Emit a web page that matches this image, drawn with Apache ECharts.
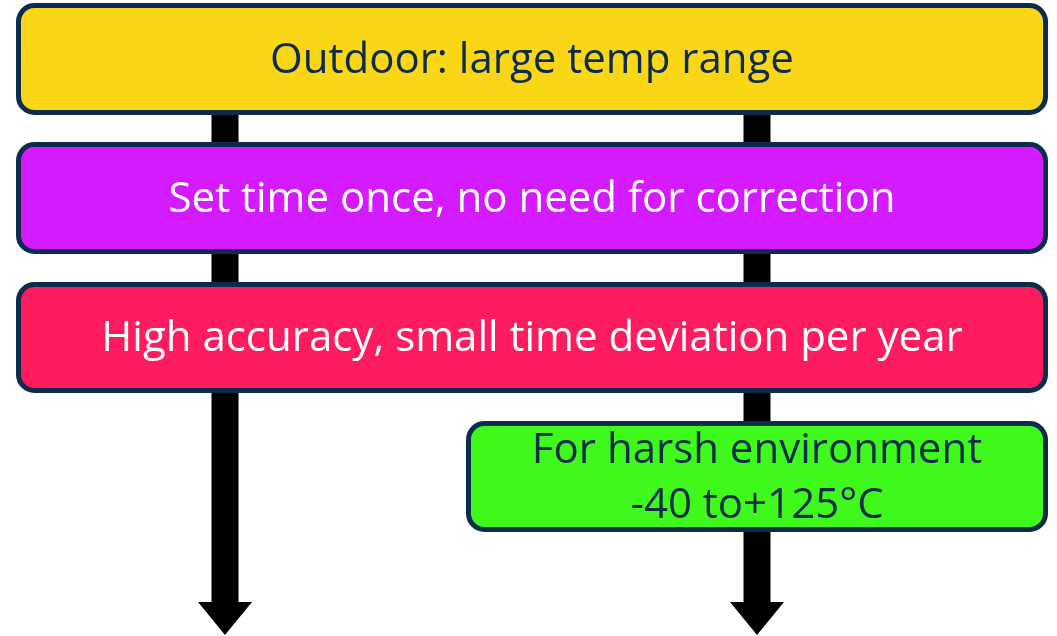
<!DOCTYPE html>
<html>
<head>
<meta charset="utf-8">
<script src="https://cdn.jsdelivr.net/npm/echarts@6/dist/echarts.min.js"></script>
<style>
  html, body { margin: 0; padding: 0; background: #fff; }
  #chart { width: 1057px; height: 636px; }
</style>
</head>
<body>
<div id="chart"></div>
<script>
// boxes (in page-like units, y grows downward)
const labels = ['Outdoor: large temp range', 'Set time once, no need for correction', 'High accuracy, small time deviation per year', 'For harsh environment\n-40 to+125°C'];
const boxLeft = [16, 16, 16, 466];
const boxRight = [1048, 1048, 1048, 1048];
const boxTop = [3, 142, 282, 421];
const boxBottom = [115, 254, 393, 532];
const boxColors = ['#F9D616', '#D41BFF', '#FD1C5E', '#3FF91C'];
const textColors = ['#0D2B4B', '#FFFFFF', '#FFFFFF', '#0D2B4B'];

// arrows
const arrowX = [225, 757];
const arrowStart = [115, 115];
const arrowEnd = [635, 635];

let chart = echarts.init(document.getElementById('chart'));

let boxData = labels.map(function (l, i) {
  return [boxLeft[i], boxRight[i], boxTop[i], boxBottom[i], i];
});
let arrowData = arrowX.map(function (x, i) {
  return [x, arrowStart[i], arrowEnd[i]];
});

chart.setOption({
  animation: false,
  grid: { left: 0, right: 0, top: 0, bottom: 0 },
  xAxis: { type: 'value', min: 0, max: 1057, show: false },
  yAxis: { type: 'value', min: 0, max: 636, inverse: true, show: false },
  series: [
    {
      type: 'custom',
      z: 1,
      data: arrowData,
      renderItem: function (params, api) {
        let top = api.coord([api.value(0), api.value(1)]);
        let tip = api.coord([api.value(0), api.value(2)]);
        let shaftW = 27, headW = 54, headH = 33;
        let headTop = tip[1] - headH;
        return {
          type: 'polygon',
          shape: {
            points: [
              [top[0] - shaftW / 2, top[1]],
              [top[0] + shaftW / 2, top[1]],
              [top[0] + shaftW / 2, headTop],
              [top[0] + headW / 2, headTop],
              [tip[0], tip[1]],
              [top[0] - headW / 2, headTop],
              [top[0] - shaftW / 2, headTop]
            ]
          },
          style: { fill: '#000' }
        };
      }
    },
    {
      type: 'custom',
      z: 2,
      data: boxData,
      renderItem: function (params, api) {
        let i = api.value(4);
        let p0 = api.coord([api.value(0), api.value(2)]);
        let p1 = api.coord([api.value(1), api.value(3)]);
        let lw = 5;
        return {
          type: 'group',
          children: [
            {
              type: 'rect',
              shape: {
                x: p0[0] + lw / 2, y: p0[1] + lw / 2,
                width: p1[0] - p0[0] - lw, height: p1[1] - p0[1] - lw,
                r: 16
              },
              style: { fill: boxColors[i], stroke: '#0D2B4B', lineWidth: lw }
            },
            {
              type: 'text',
              style: {
                text: labels[i],
                x: (p0[0] + p1[0]) / 2,
                y: (p0[1] + p1[1]) / 2 + 2,
                align: 'center',
                verticalAlign: 'middle',
                fontFamily: 'Open Sans',
                fontSize: 42,
                lineHeight: 55,
                fill: textColors[i]
              }
            }
          ]
        };
      }
    }
  ]
});
</script>
</body>
</html>
